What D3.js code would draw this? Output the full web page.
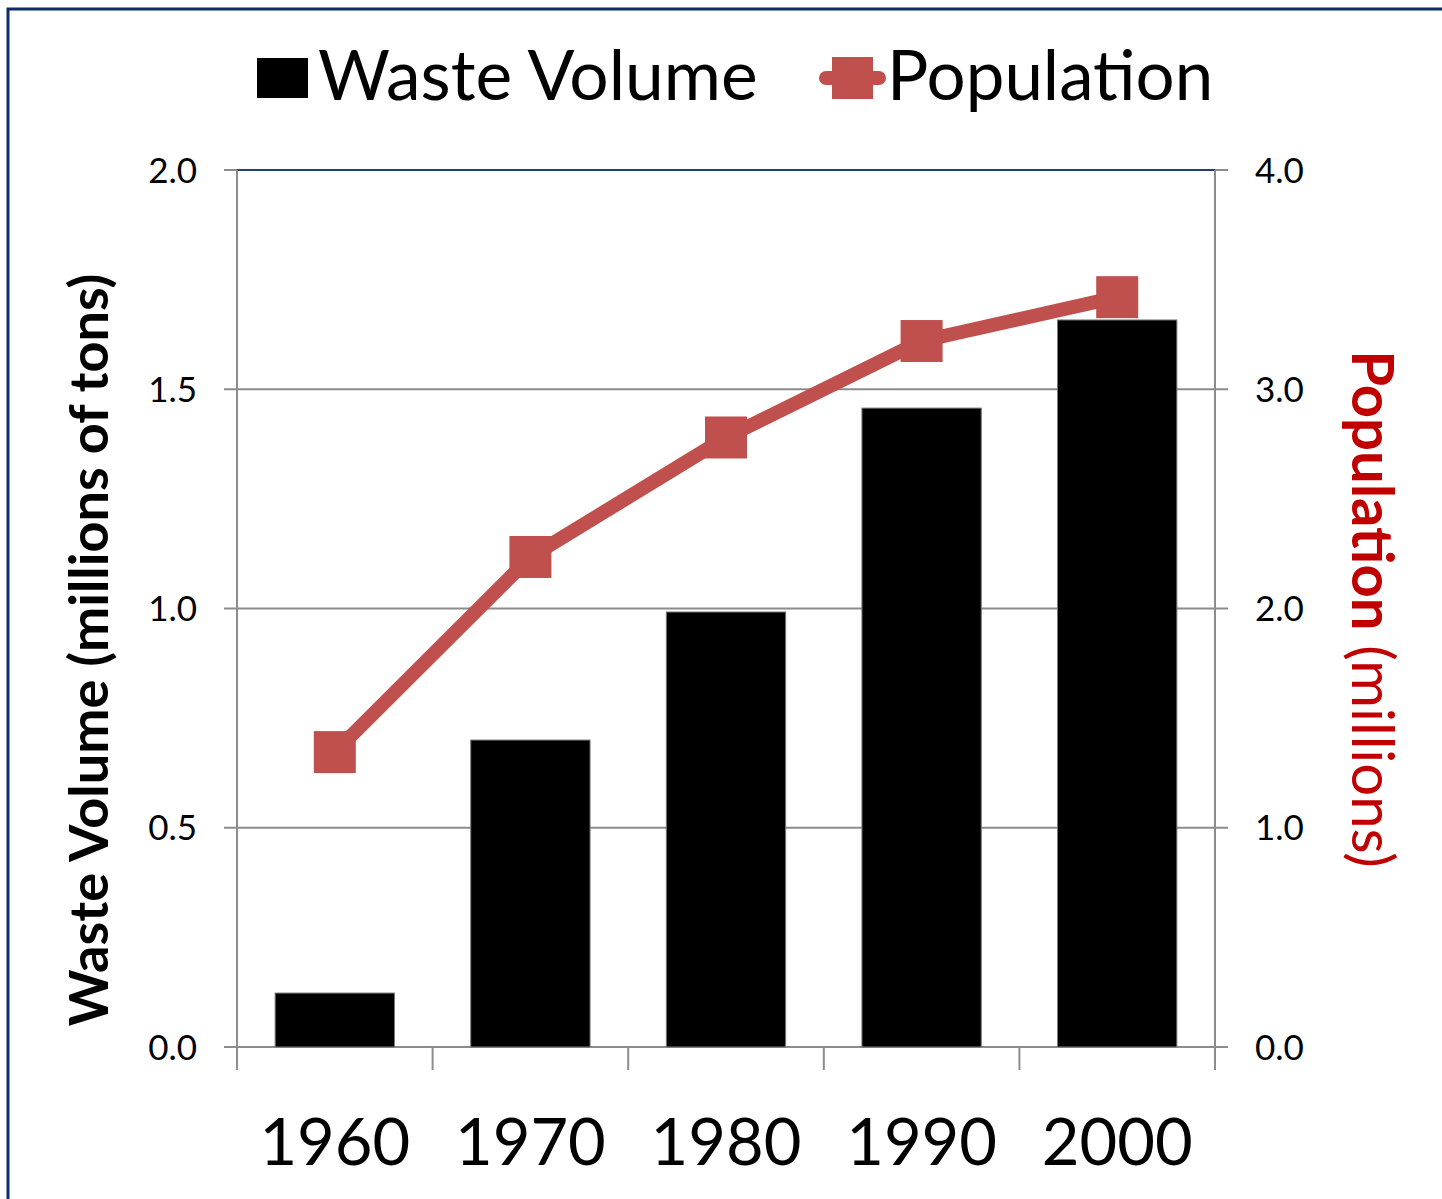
<!DOCTYPE html>
<html>
<head>
<meta charset="utf-8">
<script src="https://cdn.jsdelivr.net/npm/d3@7"></script>
<style>
  body { margin: 0; background: #fff; }
  text { font-family: Lato, "Open Sans", sans-serif; }
</style>
</head>
<body>
<div id="chart-container"></div>
<script>
// data
const years = ["1960", "1970", "1980", "1990", "2000"];
const wasteVolume = [0.123, 0.70, 0.992, 1.457, 1.658];
const population = [1.345, 2.235, 2.78, 3.22, 3.42];
const leftTicks = [0, 0.5, 1.0, 1.5, 2.0];
const rightTicks = [0, 1.0, 2.0, 3.0, 4.0];

const W = 1442, H = 1199;
const margin = { top: 170, right: 227, bottom: 152, left: 237 };
const width = W - margin.left - margin.right;
const height = H - margin.top - margin.bottom;

const red = "#C0504D";
const gridColor = "#8C8C8C";

const svg = d3.select("#chart-container")
  .append("svg")
  .attr("width", W)
  .attr("height", H);

// outer frame (only left and top edges visible)
svg.append("path")
  .attr("d", `M8,${H} L8,9 L${W},9`)
  .attr("fill", "none")
  .attr("stroke", "#0E2A6B")
  .attr("stroke-width", 3);

const x = d3.scaleBand().domain(years).range([0, width]).paddingInner(0.39).paddingOuter(0.195);
const xEdge = d3.scaleLinear().domain([0, years.length]).range([0, width]);
const yL = d3.scaleLinear().domain([0, 2]).range([height, 0]);
const yR = d3.scaleLinear().domain([0, 4]).range([height, 0]);

const g = svg.append("g").attr("transform", `translate(${margin.left},${margin.top})`);

// gridlines
g.selectAll(".grid")
  .data(leftTicks)
  .enter()
  .append("line")
  .attr("x1", -13)
  .attr("x2", width + 13)
  .attr("y1", d => yL(d))
  .attr("y2", d => yL(d))
  .attr("stroke", gridColor)
  .attr("stroke-width", 2);

// top edge is drawn dark blue
g.append("line")
  .attr("x1", 0).attr("x2", width)
  .attr("y1", yL(2)).attr("y2", yL(2))
  .attr("stroke", "#1F3F7A").attr("stroke-width", 2);

// vertical axis lines
g.append("line").attr("x1", 0).attr("x2", 0).attr("y1", 0).attr("y2", height + 23)
  .attr("stroke", gridColor).attr("stroke-width", 2);
g.append("line").attr("x1", width).attr("x2", width).attr("y1", 0).attr("y2", height + 23)
  .attr("stroke", gridColor).attr("stroke-width", 2);

// category ticks at the bottom
g.selectAll(".xtick")
  .data(d3.range(1, years.length))
  .enter()
  .append("line")
  .attr("x1", d => xEdge(d))
  .attr("x2", d => xEdge(d))
  .attr("y1", height)
  .attr("y2", height + 23)
  .attr("stroke", gridColor)
  .attr("stroke-width", 2);

// left tick labels
g.selectAll(".ltick")
  .data(leftTicks)
  .enter()
  .append("text")
  .attr("x", -40)
  .attr("y", d => yL(d))
  .attr("dy", "0.36em")
  .attr("text-anchor", "end")
  .attr("font-size", 35)
  .text(d => d.toFixed(1));

// right tick labels
g.selectAll(".rtick")
  .data(rightTicks)
  .enter()
  .append("text")
  .attr("x", width + 40)
  .attr("y", d => yR(d))
  .attr("dy", "0.36em")
  .attr("text-anchor", "start")
  .attr("font-size", 35)
  .text(d => d.toFixed(1));

// year labels
g.selectAll(".year")
  .data(years)
  .enter()
  .append("text")
  .attr("x", d => x(d) + x.bandwidth() / 2)
  .attr("y", height + 118)
  .attr("text-anchor", "middle")
  .attr("font-size", 65)
  .text(d => d);

// bars
g.selectAll(".bar")
  .data(years)
  .enter()
  .append("rect")
  .attr("x", d => x(d))
  .attr("y", (d, i) => yL(wasteVolume[i]))
  .attr("width", x.bandwidth())
  .attr("height", (d, i) => height - yL(wasteVolume[i]))
  .attr("fill", "#000")
  .attr("stroke", "#777")
  .attr("stroke-width", 1);

// population line
const line = d3.line()
  .x((d, i) => x(years[i]) + x.bandwidth() / 2)
  .y(d => yR(d));

g.append("path")
  .datum(population)
  .attr("d", line)
  .attr("fill", "none")
  .attr("stroke", red)
  .attr("stroke-width", 14)
  .attr("stroke-linejoin", "round");

g.selectAll(".marker")
  .data(population)
  .enter()
  .append("rect")
  .attr("x", (d, i) => x(years[i]) + x.bandwidth() / 2 - 21)
  .attr("y", d => yR(d) - 21)
  .attr("width", 42)
  .attr("height", 42)
  .attr("fill", red);

// axis titles
svg.append("text")
  .attr("transform", `translate(108,650) rotate(-90)`)
  .attr("text-anchor", "middle")
  .attr("font-size", 54)
  .attr("font-weight", "bold")
  .text("Waste Volume (millions of tons)");

const rt = svg.append("text")
  .attr("transform", `translate(1352,609) rotate(90)`)
  .attr("text-anchor", "middle")
  .attr("font-size", 58)
  .attr("fill", "#C00000");
rt.append("tspan").attr("font-weight", "bold").text("Population");
rt.append("tspan").text(" (millions)");

// legend
const legend = svg.append("g");
legend.append("rect")
  .attr("x", 257).attr("y", 58).attr("width", 51).attr("height", 40)
  .attr("fill", "#000");
legend.append("text")
  .attr("x", 318).attr("y", 100)
  .attr("font-size", 69.5)
  .text("Waste Volume");

legend.append("line")
  .attr("x1", 826).attr("x2", 879).attr("y1", 78).attr("y2", 78)
  .attr("stroke", red).attr("stroke-width", 14).attr("stroke-linecap", "round");
legend.append("rect")
  .attr("x", 832).attr("y", 57).attr("width", 41).attr("height", 42)
  .attr("fill", red);
legend.append("text")
  .attr("x", 887).attr("y", 100)
  .attr("font-size", 69)
  .text("Population");
</script>
</body>
</html>
